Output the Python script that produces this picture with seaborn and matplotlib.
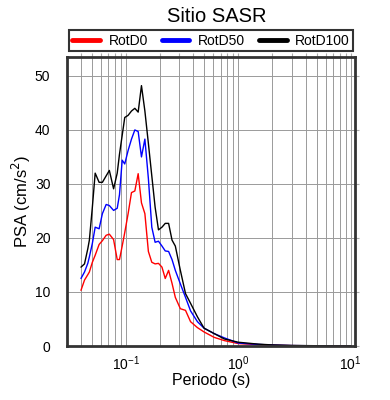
import numpy as np
import pandas as pd
import matplotlib
matplotlib.use("Agg")
import matplotlib.pyplot as plt
import seaborn as sns
from matplotlib.ticker import LogLocator, NullFormatter, MultipleLocator

# periods (s)
periodo = [0.040, 0.043, 0.046, 0.0475, 0.0505, 0.0535, 0.058, 0.062, 0.067, 0.0715,
           0.078, 0.084, 0.088, 0.093, 0.098, 0.105, 0.1125, 0.1205, 0.129, 0.138,
           0.148, 0.159, 0.1705, 0.1825, 0.1955, 0.21, 0.2245, 0.2405, 0.258, 0.276,
           0.306, 0.340, 0.377, 0.434, 0.497, 0.611, 0.753, 1.0,
           1.5, 2.0, 3.0, 5.0, 7.0, 10.0]

rotd0 = [10.3, 12.2, 13.2, 13.7, 15.5, 16.8, 18.8, 19.5, 20.5, 20.7,
         19.7, 16.0, 16.0, 18.5, 21.0, 24.5, 28.4, 28.7, 31.9, 26.5,
         24.5, 17.5, 15.5, 15.2, 15.3, 14.6, 12.5, 14.0, 11.6, 9.0,
         6.9, 6.6, 4.5, 3.4, 2.6, 1.6, 1.0, 0.45,
         0.25, 0.15, 0.07, 0.04, 0.02, 0.01]

rotd50 = [12.5, 13.7, 15.3, 16.5, 19.0, 22.0, 21.7, 24.5, 26.2, 26.0,
          25.1, 25.5, 28.0, 34.4, 33.7, 36.2, 38.3, 40.0, 39.7, 35.0,
          38.3, 31.0, 22.0, 19.2, 19.4, 18.5, 17.6, 17.5, 16.0, 14.0,
          11.5, 9.0, 6.5, 4.5, 3.3, 2.3, 1.5, 0.55,
          0.3, 0.17, 0.08, 0.04, 0.02, 0.01]

rotd100 = [14.6, 15.2, 18.0, 19.6, 25.7, 32.0, 30.3, 30.3, 31.5, 32.5,
           29.1, 32.0, 35.5, 39.0, 42.3, 42.7, 43.5, 44.0, 43.3, 48.2,
           43.5, 37.5, 31.5, 25.7, 21.5, 22.0, 22.7, 22.7, 19.6, 18.5,
           14.0, 9.7, 7.9, 5.4, 3.3, 2.3, 1.3, 0.7,
           0.35, 0.2, 0.1, 0.05, 0.03, 0.02]

series = ["RotD0", "RotD50", "RotD100"]
colores = ["red", "blue", "black"]

df = pd.concat([
    pd.DataFrame({"Periodo": periodo, "PSA": rotd0, "comp": "RotD0"}),
    pd.DataFrame({"Periodo": periodo, "PSA": rotd50, "comp": "RotD50"}),
    pd.DataFrame({"Periodo": periodo, "PSA": rotd100, "comp": "RotD100"}),
])

sns.set_style("white")
plt.rcParams['font.family'] = ['Liberation Sans', 'DejaVu Sans']
plt.rcParams['text.color'] = 'black'
plt.rcParams['axes.labelcolor'] = 'black'
plt.rcParams['xtick.labelcolor'] = 'black'
plt.rcParams['ytick.labelcolor'] = 'black'

fig = plt.figure(figsize=(3.9, 4.0), dpi=100)
ax = fig.add_axes([0.172, 0.135, 0.738, 0.7225])

sns.lineplot(data=df, x="Periodo", y="PSA", hue="comp", hue_order=series,
             palette=colores, linewidth=1.0, ax=ax, legend=False)

ax.set_xscale("log")
ax.set_xlim(0.0301, 10.9)
ax.set_ylim(0, 53.5)
ax.yaxis.set_major_locator(MultipleLocator(10))
ax.xaxis.set_major_locator(LogLocator(base=10))
ax.xaxis.set_minor_locator(LogLocator(base=10, subs=np.arange(2, 10)))
ax.xaxis.set_minor_formatter(NullFormatter())

ax.grid(True, which="major", color="#9a9a9a", linewidth=0.7)
ax.grid(True, which="minor", axis="x", color="#9a9a9a", linewidth=0.7)

for s in ax.spines.values():
    s.set_color("#333333")
    s.set_linewidth(2.0)

ax.tick_params(which="both", direction="out", color="#aaaaaa", length=3, width=0.8,
               top=True, right=True, labelsize=10, pad=3)
ax.tick_params(axis="y", pad=9)

ax.set_xlabel("Periodo (s)", fontsize=11.5, labelpad=0)
ax.set_ylabel("PSA (cm/s$^2$)", fontsize=12, labelpad=1)
fig.text(0.557, 0.96, "Sitio SASR", ha="center", va="center", fontsize=14.5)

handles = [plt.Line2D([], [], color=c, linewidth=3.5) for c in colores]
leg = ax.legend(handles, series, ncol=3, loc="lower center",
                bbox_to_anchor=(0.5, 1.01), frameon=True, fancybox=False,
                edgecolor="black", fontsize=10, handlelength=2.0, handletextpad=0.6,
                columnspacing=1.0, borderpad=0.25, borderaxespad=0.2)
leg.get_frame().set_linewidth(1.5)

fig.savefig("out.png", dpi=100)
